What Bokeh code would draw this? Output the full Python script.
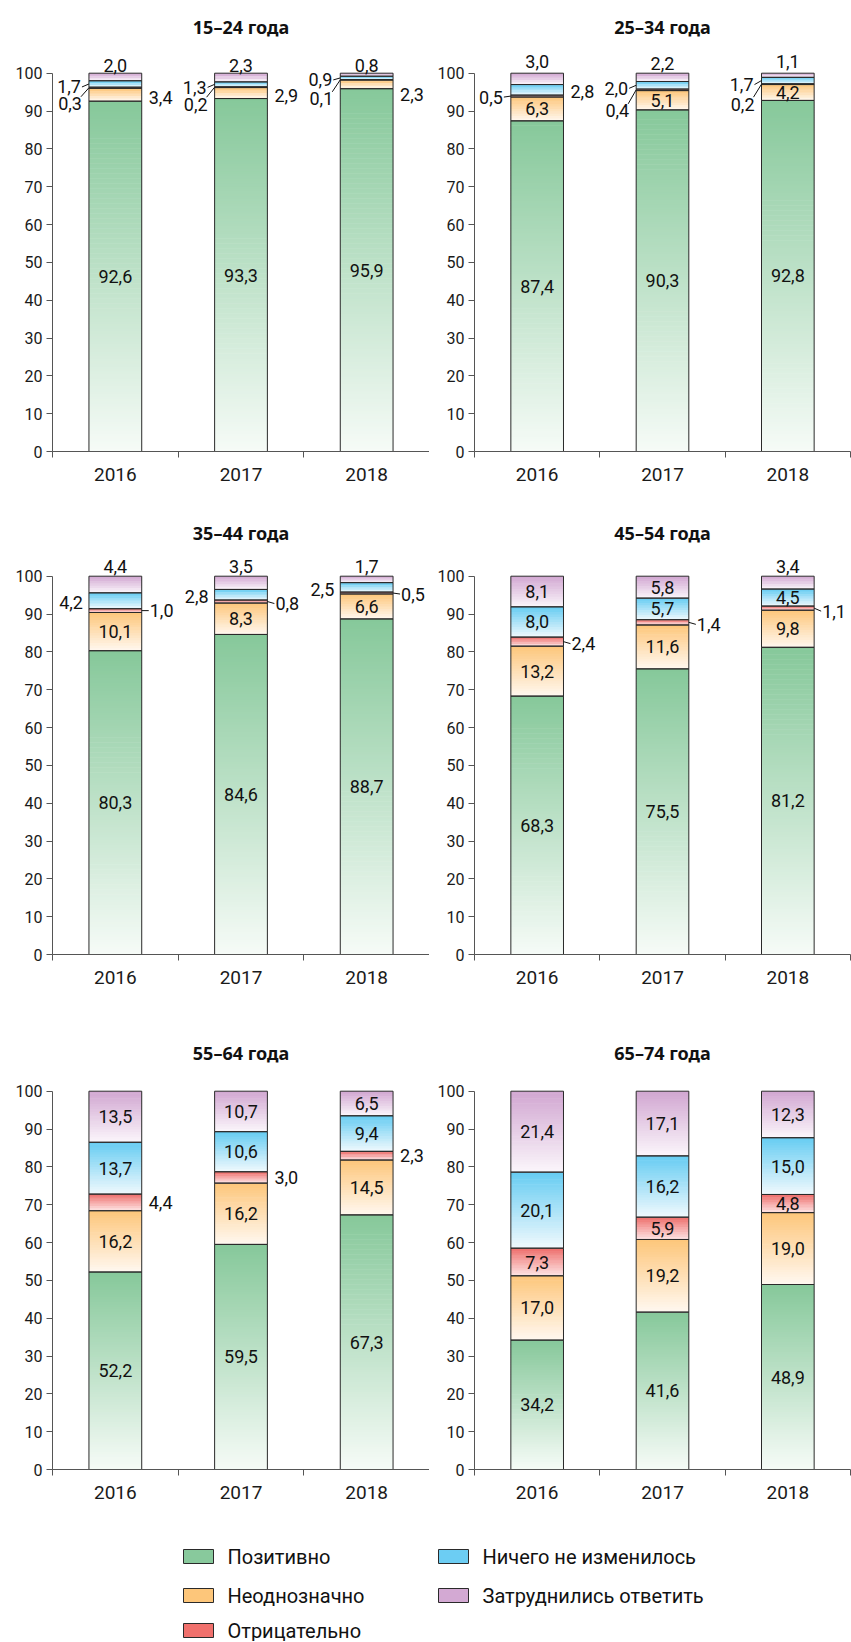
from bokeh.plotting import figure
from bokeh.layouts import column, row
from bokeh.models import FixedTicker, Range1d, ColumnDataSource
from bokeh.core.properties import value
from bokeh.embed import file_html
from bokeh.resources import INLINE

# ---------------- data ----------------
years = ["2016", "2017", "2018"]
series = ["Позитивно", "Неоднозначно", "Отрицательно",
          "Ничего не изменилось", "Затруднились ответить"]
groups = ["15–24 года", "25–34 года", "35–44 года",
          "45–54 года", "55–64 года", "65–74 года"]

positive = [[92.6, 93.3, 95.9], [87.4, 90.3, 92.8], [80.3, 84.6, 88.7],
            [68.3, 75.5, 81.2], [52.2, 59.5, 67.3], [34.2, 41.6, 48.9]]
ambiguous = [[3.4, 2.9, 2.3], [6.3, 5.1, 4.2], [10.1, 8.3, 6.6],
             [13.2, 11.6, 9.8], [16.2, 16.2, 14.5], [17.0, 19.2, 19.0]]
negative = [[0.3, 0.2, 0.1], [0.5, 0.4, 0.2], [1.0, 0.8, 0.5],
            [2.4, 1.4, 1.1], [4.4, 3.0, 2.3], [7.3, 5.9, 4.8]]
unchanged = [[1.7, 1.3, 0.9], [2.8, 2.0, 1.7], [4.2, 2.8, 2.5],
             [8.0, 5.7, 4.5], [13.7, 10.6, 9.4], [20.1, 16.2, 15.0]]
no_answer = [[2.0, 2.3, 0.8], [3.0, 2.2, 1.1], [4.4, 3.5, 1.7],
             [8.1, 5.8, 3.4], [13.5, 10.7, 6.5], [21.4, 17.1, 12.3]]
y_ticks = [0, 10, 20, 30, 40, 50, 60, 70, 80, 90, 100]

DATA = [positive, ambiguous, negative, unchanged, no_answer]

# ---------------- style ----------------
TOP_COL = ["#86c89a", "#fdc67a", "#ee6e6b", "#66ccf2", "#d1a6d1"]
BOT_COL = ["#f6fbf7", "#fff8f0", "#fde4e4", "#f0f9fd", "#fbf6fb"]
SWATCH = ["#88c99c", "#fdc67a", "#f0706c", "#6ccdf3", "#d3a9d3"]
FONT = "Roboto"
NUM_SIZE = "18px"

# label placement codes (code, vertical pixel shift; + = up)
I = ("in", 0)
T = ("top", 0)
label_pos = [
    [[I, ("R", -3), ("LD", -16), ("LL", -3), ("top", -2)],
     [I, ("R", -2), ("LD", -17), ("LL", -3), ("top", -2)],
     [I, ("R", -10), ("LD", -19), ("LL", -2), ("top", -2)]],
    [[I, I, ("LL", -1), ("R", -2), ("top", 2)],
     [I, I, ("LD", -21), ("LL", -3), T],
     [I, I, ("LD", -20), ("LL", -4), ("top", 2)]],
    [[I, I, ("RL", 0), ("L", -2), T],
     [I, I, ("RL", -2), ("L", -2), T],
     [I, I, ("RL", -1), ("L", -2), T]],
    [[I, I, ("RL", -2), I, I],
     [I, I, ("RL", -2), I, I],
     [I, I, ("RL", -3), I, T]],
    [[I, I, ("R", 0), I, I],
     [I, I, ("R", 0), I, I],
     [I, I, ("R", 0), I, I]],
    [[I, I, I, I, I], [I, I, I, I, I], [I, I, I, I, I]],
]

FH = 401
YMAX = 106
UY = YMAX / FH
BAR_W = 0.42


def hex2rgb(h):
    return tuple(int(h[i:i + 2], 16) for i in (1, 3, 5))


def mix(c_top, c_bot, f):
    a = hex2rgb(c_top)
    b = hex2rgb(c_bot)
    r = [round(b[i] + (a[i] - b[i]) * f) for i in range(3)]
    return "#%02x%02x%02x" % tuple(r)


def fmt(v):
    return ("%.1f" % v).replace(".", ",")


def panel(gi, fw, bl, br, bt, bb, height, standoff):
    UX = 3.0 / fw
    p = figure(width=bl + fw + br, height=height, x_range=Range1d(0, 3),
               y_range=Range1d(0, YMAX), output_backend="svg",
               toolbar_location=None, min_border_left=bl, min_border_right=br,
               min_border_top=bt, min_border_bottom=bb)
    p.outline_line_color = None
    p.grid.visible = False
    p.title.text = groups[gi]
    p.title.align = "center"
    p.title.text_font = "Noto Sans"
    p.title.text_font_style = "bold"
    p.title.text_font_size = "18px"
    p.title.text_color = "#111111"
    p.title.standoff = standoff

    # axes
    p.xaxis.ticker = FixedTicker(ticks=[0.5, 1.5, 2.5], minor_ticks=[0, 1, 2, 3])
    p.xaxis.major_label_overrides = {0.5: years[0], 1.5: years[1], 2.5: years[2]}
    p.xaxis.major_tick_out = 0
    p.xaxis.major_tick_in = 0
    p.xaxis.minor_tick_out = 6
    p.xaxis.minor_tick_in = 0
    p.xaxis.major_label_standoff = 10
    p.yaxis.ticker = FixedTicker(ticks=y_ticks)
    p.yaxis.bounds = (0, 100)
    p.yaxis.major_tick_out = 6
    p.yaxis.major_tick_in = 0
    p.yaxis.minor_tick_out = 0
    p.yaxis.minor_tick_in = 0
    p.yaxis.major_label_standoff = 4
    for ax in (p.xaxis, p.yaxis):
        ax.axis_line_color = "#555555"
        ax.major_tick_line_color = "#555555"
        ax.minor_tick_line_color = "#555555"
        ax.major_label_text_font = FONT
        ax.major_label_text_color = "#1a1a1a"
    p.xaxis.major_label_text_font_size = "19px"
    p.yaxis.major_label_text_font_size = "16px"

    sl = dict(left=[], right=[], bottom=[], top=[], color=[])
    ol = dict(left=[], right=[], bottom=[], top=[])
    seg = dict(x0=[], y0=[], x1=[], y1=[])
    txt = {a: dict(x=[], y=[], text=[]) for a in ("left", "center", "right")}

    for yi in range(3):
        xc = yi + 0.5
        xl = xc - BAR_W / 2
        xr = xc + BAR_W / 2
        b = 0.0
        for k in range(5):
            v = DATA[k][gi][yi]
            t = b + v
            # gradient slices
            n = max(2, int(round(v / UY / 2.5)))
            h = v / n
            for j in range(n):
                f = (j + 0.5) / n
                sl["left"].append(xl)
                sl["right"].append(xr)
                sl["bottom"].append(b + j * h)
                sl["top"].append(min(t, b + (j + 1) * h + 0.6 * UY))
                sl["color"].append(mix(TOP_COL[k], BOT_COL[k], f))
            ol["left"].append(xl)
            ol["right"].append(xr)
            ol["bottom"].append(b)
            ol["top"].append(t)

            c = (b + t) / 2
            code, dy = label_pos[gi][yi][k]
            yc = c + dy * UY
            s = fmt(v)
            if code == "in":
                txt["center"]["x"].append(xc); txt["center"]["y"].append(c); txt["center"]["text"].append(s)
            elif code == "top":
                txt["center"]["x"].append(xc); txt["center"]["y"].append(100 + (10 + dy) * UY); txt["center"]["text"].append(s)
            elif code == "R":
                txt["left"]["x"].append(xr + 7 * UX); txt["left"]["y"].append(yc); txt["left"]["text"].append(s)
            elif code == "RL":
                seg["x0"].append(xr); seg["y0"].append(c); seg["x1"].append(xr + 7 * UX); seg["y1"].append(yc)
                txt["left"]["x"].append(xr + 8 * UX); txt["left"]["y"].append(yc); txt["left"]["text"].append(s)
            elif code == "L":
                txt["right"]["x"].append(xl - 6 * UX); txt["right"]["y"].append(yc); txt["right"]["text"].append(s)
            elif code == "LL":
                seg["x0"].append(xl); seg["y0"].append(c); seg["x1"].append(xl - 7 * UX); seg["y1"].append(yc)
                txt["right"]["x"].append(xl - 8 * UX); txt["right"]["y"].append(yc); txt["right"]["text"].append(s)
            elif code == "LD":
                seg["x0"].append(xl); seg["y0"].append(c); seg["x1"].append(xl - 8 * UX); seg["y1"].append(yc + 7 * UY)
                txt["right"]["x"].append(xl - 7 * UX); txt["right"]["y"].append(yc); txt["right"]["text"].append(s)
            b = t

    p.quad(left="left", right="right", bottom="bottom", top="top",
           fill_color="color", line_color=None, source=ColumnDataSource(sl))
    p.quad(left="left", right="right", bottom="bottom", top="top",
           fill_alpha=0, line_color="#2a2a2a", line_width=1,
           source=ColumnDataSource(ol))
    p.segment(x0="x0", y0="y0", x1="x1", y1="y1", line_color="#111111",
              line_width=1, source=ColumnDataSource(seg))
    for a, d in txt.items():
        if d["x"]:
            p.text(x="x", y="y", text="text", source=ColumnDataSource(d),
                   text_align=a, text_baseline="middle",
                   text_font=value(FONT), text_font_size=NUM_SIZE,
                   text_color="#111111")
    return p


# (figure height, bottom border, title standoff)
rows_spec = [(503, 52, 23), (515, 64, 17), (491, 40, 8)]
rows = []
for r, (hgt, bb, so) in enumerate(rows_spec):
    left = panel(2 * r, 377, 52, 0, 50, bb, hgt, so)
    right = panel(2 * r + 1, 376, 45, 1, 50, bb, hgt, so)
    rows.append(row(left, right))

# ---------------- legend ----------------
LW, LH = 851, 132
lg = figure(width=LW, height=LH, x_range=Range1d(0, LW), y_range=Range1d(0, LH),
            output_backend="svg", toolbar_location=None, min_border=0)
lg.axis.visible = False
lg.grid.visible = False
lg.outline_line_color = None
col_x = [183, 438]
row_y = [LH - 47, LH - 86, LH - 121]
order = [(0, 0), (0, 1), (0, 2), (1, 0), (1, 1)]
sw = dict(x=[], y=[], color=[])
lt = dict(x=[], y=[], text=[])
for k, (ci, ri) in enumerate(order):
    sw["x"].append(col_x[ci] + 15)
    sw["y"].append(row_y[ri])
    sw["color"].append(SWATCH[k])
    lt["x"].append(col_x[ci] + 44)
    lt["y"].append(row_y[ri])
    lt["text"].append(series[k])
lg.rect(x="x", y="y", width=30, height=14, fill_color="color",
        line_color="#2a2a2a", line_width=1, source=ColumnDataSource(sw))
lg.text(x="x", y="y", text="text", text_align="left", text_baseline="middle",
        text_font=value(FONT), text_font_size="20px", text_color="#111111",
        source=ColumnDataSource(lt))

layout = column(*rows, lg, spacing=0)
open("out.html", "w").write(file_html(layout, INLINE))
